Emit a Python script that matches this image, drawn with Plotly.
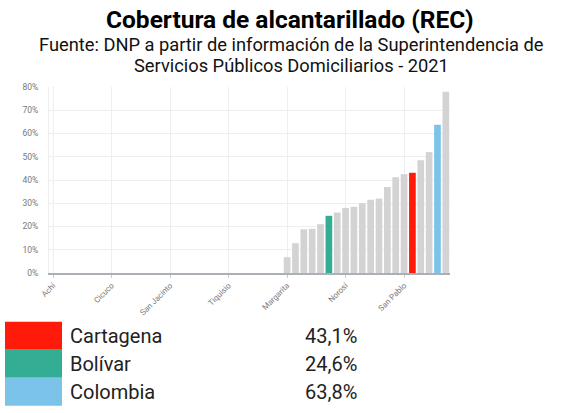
import plotly.graph_objects as go

W, H = 579, 413
# plot area in page pixels
SL, SR, ST, SB = 49, 450, 86.5, 273
L, T = SL, ST
R = W - SR
B = H - SB

categories = [
    "Achí", "Altos del Rosario", "Arenal", "Arroyohondo", "Barranco de Loba", "Cantagallo", "Córdoba",
    "Cicuco", "El Guamo", "El Peñón", "Hatillo de Loba", "Montecristo", "Pinillos", "Regidor",
    "San Jacinto", "Río Viejo", "San Cristóbal", "San Fernando", "San Jacinto del Cauca", "San Martín de Loba", "Santa Rosa",
    "Tiquisio", "Simití", "Soplaviento", "Talaigua Nuevo", "Zambrano", "Clemencia", "Arjona",
    "Margarita", "Morales", "María la Baja", "Villanueva", "Turbaná", "Bolívar", "Santa Catalina",
    "Norosí", "Calamar", "El Carmen de Bolívar", "Mahates", "San Estanislao", "Santa Rosa del Sur", "Magangué",
    "San Pablo", "Cartagena", "San Juan Nepomuceno", "Turbaco", "Colombia", "Mompós",
]
values = [
    0, 0, 0, 0, 0, 0, 0,
    0, 0, 0, 0, 0, 0, 0,
    0, 0, 0, 0, 0, 0, 0,
    0, 0, 0, 0, 0, 0, 0,
    6.8, 12.8, 18.8, 19.0, 21.0, 24.6, 26.0,
    28.0, 28.5, 30.0, 31.5, 32.0, 37.0, 41.2,
    42.5, 43.1, 48.5, 52.0, 63.8, 78.0,
]
highlight_names = ["Cartagena", "Bolívar", "Colombia"]
highlight_values = ["43,1%", "24,6%", "63,8%"]
highlight_colors = ["#FF1A0A", "#33AD94", "#7CC3E9"]
base_color = "#D3D3D3"
tick_names = categories[::7]
title_text = "Cobertura de alcantarillado (REC)"
subtitle_lines = ["Fuente: DNP a partir de información de la Superintendencia de",
                  "Servicios Públicos Domiciliarios - 2021"]

color_map = dict(zip(highlight_names, highlight_colors))
bar_colors = [color_map.get(c, base_color) for c in categories]

fig = go.Figure(go.Bar(x=categories, y=values, marker_color=bar_colors,
                       marker_line_width=0, hoverinfo="x+y"))

pw, ph = SR - SL, SB - ST
def px_x(x):
    return (x - SL) / pw
def px_y(y):
    return (SB - y) / ph

shapes, annotations = [], []
row_top, row_h = 322, 28
for i, (n, v, c) in enumerate(zip(highlight_names, highlight_values, highlight_colors)):
    y0 = row_top + i * row_h
    shapes.append(dict(type="rect", xref="paper", yref="paper", x0=px_x(5), x1=px_x(62),
                       y0=px_y(y0 + row_h), y1=px_y(y0), fillcolor=c, line_width=0, layer="above"))
    annotations.append(dict(xref="paper", yref="paper", x=px_x(68), y=px_y(y0 + row_h / 2),
                            text=n, showarrow=False, xanchor="left", yanchor="middle",
                            font=dict(family="Roboto", size=20, color="#222")))
    annotations.append(dict(xref="paper", yref="paper", x=px_x(303), y=px_y(y0 + row_h / 2),
                            text=v, showarrow=False, xanchor="left", yanchor="middle",
                            font=dict(family="Roboto", size=20, color="#222")))

annotations.append(dict(xref="paper", yref="paper", x=px_x(290), y=px_y(19),
                        text="<b>" + title_text + "</b>", showarrow=False,
                        xanchor="center", yanchor="middle", borderpad=0,
                        font=dict(family="Roboto", size=24.5, color="#000")))
for j, line in enumerate(subtitle_lines):
    annotations.append(dict(xref="paper", yref="paper", x=px_x(291), y=px_y(44 + 21 * j),
                            text=line, showarrow=False, xanchor="center", yanchor="middle",
                            borderpad=0,
                            font=dict(family="Roboto", size=18.3, color="#111")))

fig.update_layout(
    width=W, height=H, margin=dict(l=L, r=R, t=T, b=B),
    paper_bgcolor="white", plot_bgcolor="white",
    showlegend=False, bargap=0.2,
    shapes=shapes, annotations=annotations,
    xaxis=dict(type="category", tickmode="array", tickvals=tick_names, ticktext=tick_names,
               tickangle=-45, tickfont=dict(family="Roboto", size=8, color="#777"),
               showgrid=True, gridcolor="#EEEEEE", showline=True, linecolor="#AAB0B5",
               linewidth=1.5, ticks="outside", ticklen=3, tickcolor="#CCCCCC", fixedrange=True),
    yaxis=dict(range=[0, 80], dtick=10, ticksuffix="%", showgrid=True, gridcolor="#EEEEEE",
               zeroline=False, tickfont=dict(family="Roboto", size=8.5, color="#777"),
               ticks="outside", ticklen=8, tickcolor="white",
               showline=True, linecolor="#EEEEEE", fixedrange=True),
)

fig.write_html("out.html", config={"displayModeBar": False},
               post_script="document.body.style.margin='0px';")
